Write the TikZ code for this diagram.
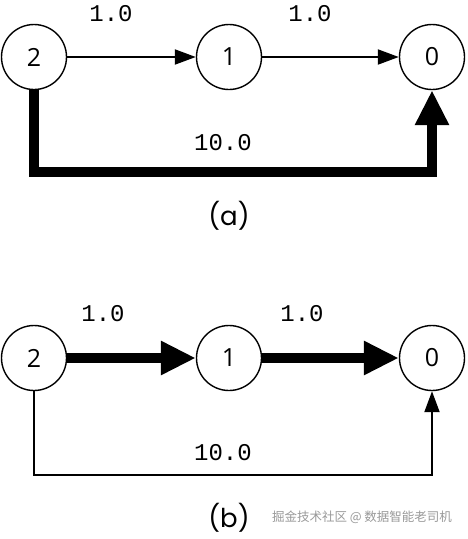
\documentclass[tikz,border=0pt]{standalone}
\usepackage{fontspec}
\setmainfont{Poppins}
\setmonofont{Liberation Mono}
\newfontfamily\digitfont{Open Sans}
\newfontfamily\cjk{Noto Sans CJK SC}
\usetikzlibrary{arrows.meta}

\begin{document}
\begin{tikzpicture}[x=1pt, y=-1pt,
  vertex/.style={circle, draw, line width=1.4pt, minimum size=65pt, inner sep=0pt,
    font=\digitfont\fontsize{25}{25}\selectfont},
  weight/.style={font=\ttfamily\fontsize{24}{24}\selectfont},
  caption/.style={font=\fontsize{26}{26}\selectfont},
  light/.style={line width=2pt, -{Triangle[length=21pt, width=15pt]}},
  heavy/.style={line width=10pt, -{Triangle[length=35pt, width=32pt]}}]
  \useasboundingbox (0,0) rectangle (467,539);
  % (a): shortest path goes along the 10.0 edge
  \node[vertex] (a2) at (34,57) {2};
  \node[vertex] (a1) at (229,57) {1};
  \node[vertex] (a0) at (432,57) {0};
  \coordinate (abend) at (232,172);
  \draw[light] (a2) -- (a1);
  \draw[light] (a1) -- (a0);
  \draw[heavy] (a2) |- (abend) -| (a0);
  \node[weight] at (111,14) {1.0};
  \node[weight] at (310,14) {1.0};
  \node[weight] at (223,143) {10.0};
  \node[caption] at (229,216) {(a)};
  % (b): shortest path goes through node 1
  \node[vertex] (b2) at (34,358) {2};
  \node[vertex] (b1) at (229,358) {1};
  \node[vertex] (b0) at (432,358) {0};
  \coordinate (bbend) at (232,475);
  \draw[heavy] (b2) -- (b1);
  \draw[heavy] (b1) -- (b0);
  \draw[light] (b2) |- (bbend) -| (b0);
  \node[weight] at (103,314) {1.0};
  \node[weight] at (302,314) {1.0};
  \node[weight] at (223,453) {10.0};
  \node[caption] at (229,518) {(b)};
  \node[font=\cjk\fontsize{12.5}{12.5}\selectfont, text=gray!80] at (362,517) {掘金技术社区 @ 数据智能老司机};
\end{tikzpicture}
\end{document}
